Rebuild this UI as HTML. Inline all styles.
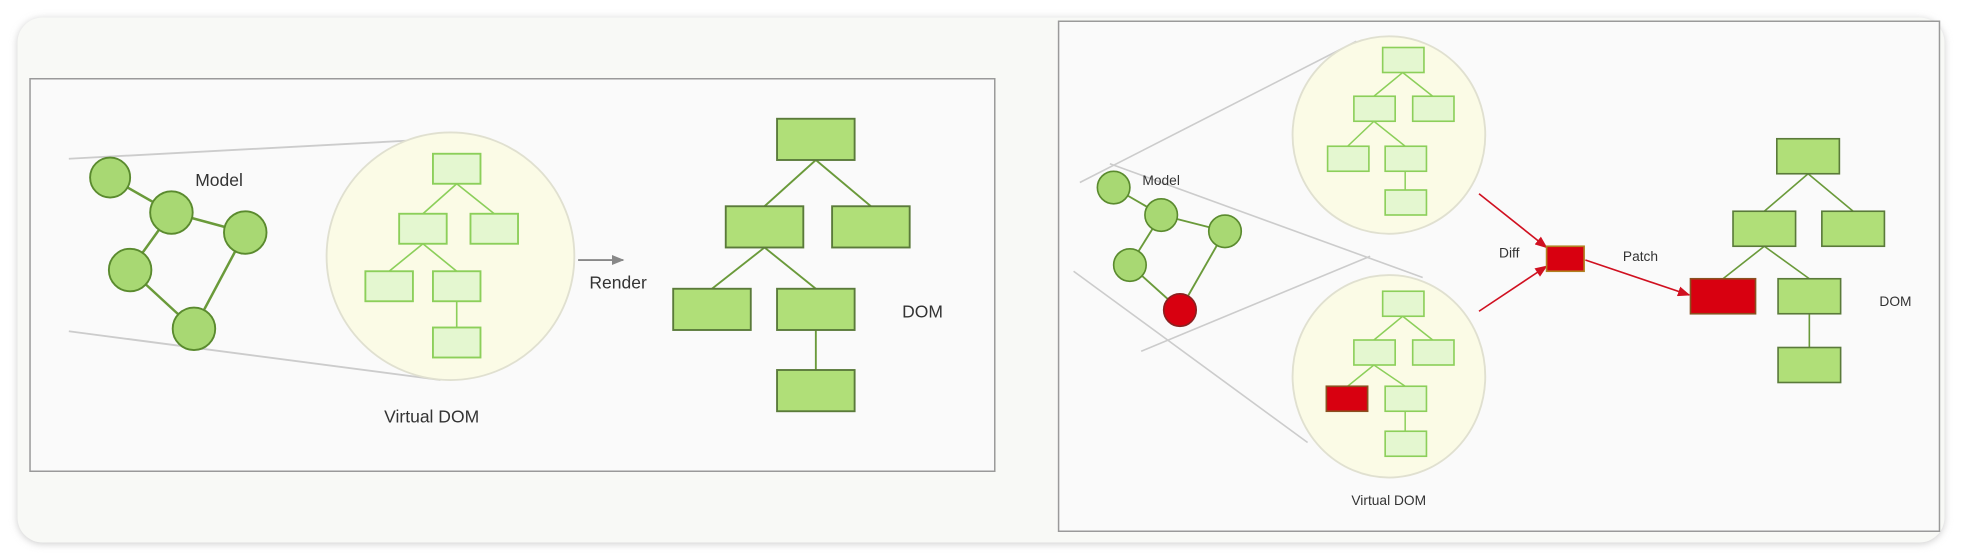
<!DOCTYPE html>
<html><head><meta charset="utf-8"><style>
html,body{margin:0;padding:0;background:#fff;}
svg{display:block;}
text{font-family:"Liberation Sans",sans-serif;fill:#333;}
</style></head><body>
<svg width="1962" height="560" viewBox="0 0 1568 448" preserveAspectRatio="none" xmlns="http://www.w3.org/2000/svg">
<defs>
<filter id="sh" x="-5%" y="-5%" width="110%" height="110%"><feGaussianBlur stdDeviation="3"/></filter>
<marker id="ag" markerWidth="10" markerHeight="8" refX="9" refY="4" orient="auto" markerUnits="userSpaceOnUse"><path d="M0,0 L10,4 L0,8 z" fill="#888"/></marker>
<marker id="ar" markerWidth="10" markerHeight="8" refX="9" refY="4" orient="auto" markerUnits="userSpaceOnUse"><path d="M0,0 L10,4 L0,8 z" fill="#d01020"/></marker>
</defs>
<rect x="0" y="0" width="1568" height="448" fill="#fff"/>
<rect x="14" y="15" width="1540" height="420" rx="20" fill="#ccc" filter="url(#sh)"/>
<rect x="14" y="14" width="1540" height="420" rx="20" fill="#f8f9f6"/>

<!-- LEFT PANEL -->
<rect x="24" y="63" width="771" height="314" fill="#fafafa" stroke="#9a9a9a" stroke-width="1.2"/>
<line x1="55" y1="127" x2="355" y2="111" stroke="#ccc" stroke-width="1.5"/>
<line x1="55" y1="265" x2="352" y2="304" stroke="#ccc" stroke-width="1.5"/>
<ellipse cx="360" cy="205" rx="99" ry="99" fill="#fbfbe6" stroke="#e0e0d0" stroke-width="1.5"/>
<g stroke="#6a9a3a" stroke-width="2">
<line x1="88" y1="142" x2="137" y2="170"/><line x1="137" y1="170" x2="196" y2="186"/>
<line x1="137" y1="170" x2="104" y2="216"/><line x1="104" y1="216" x2="155" y2="263"/>
<line x1="196" y1="186" x2="155" y2="263"/>
</g>
<g fill="#a8d873" stroke="#5a8a2e" stroke-width="1.5">
<circle cx="88" cy="142" r="16"/><circle cx="137" cy="170" r="17"/><circle cx="196" cy="186" r="17"/>
<circle cx="104" cy="216" r="17"/><circle cx="155" cy="263" r="17"/>
</g>
<text x="156" y="149" font-size="14">Model</text>
<g stroke="#8ccf5a" stroke-width="1.3">
<line x1="365" y1="147" x2="338" y2="171"/><line x1="365" y1="147" x2="395" y2="171"/>
<line x1="338" y1="195" x2="311" y2="217"/><line x1="338" y1="195" x2="365" y2="217"/>
<line x1="365" y1="241" x2="365" y2="262"/>
</g>
<g fill="#e4f7d0" stroke="#8ccf5a" stroke-width="1.5">
<rect x="346" y="123" width="38" height="24"/><rect x="319" y="171" width="38" height="24"/>
<rect x="376" y="171" width="38" height="24"/><rect x="292" y="217" width="38" height="24"/>
<rect x="346" y="217" width="38" height="24"/><rect x="346" y="262" width="38" height="24"/>
</g>
<text x="307" y="338" font-size="14">Virtual DOM</text>
<line x1="462" y1="208" x2="498" y2="208" stroke="#888" stroke-width="1.5" marker-end="url(#ag)"/>
<text x="471" y="231" font-size="14">Render</text>
<g stroke="#6a9a3a" stroke-width="1.5">
<line x1="652" y1="128" x2="611" y2="165"/><line x1="652" y1="128" x2="696" y2="165"/>
<line x1="611" y1="198" x2="569" y2="231"/><line x1="611" y1="198" x2="652" y2="231"/>
<line x1="652" y1="264" x2="652" y2="296"/>
</g>
<g fill="#b0df78" stroke="#5a7a3a" stroke-width="1.5">
<rect x="621" y="95" width="62" height="33"/><rect x="580" y="165" width="62" height="33"/>
<rect x="665" y="165" width="62" height="33"/><rect x="538" y="231" width="62" height="33"/>
<rect x="621" y="231" width="62" height="33"/><rect x="621" y="296" width="62" height="33"/>
</g>
<text x="721" y="254" font-size="14">DOM</text>

<!-- RIGHT PANEL -->
<rect x="846" y="17" width="704" height="408" fill="#fafafa" stroke="#9a9a9a" stroke-width="1.2"/>
<g stroke="#ccc" stroke-width="1.3">
<line x1="863" y1="146" x2="1084" y2="33"/>
<line x1="887" y1="131" x2="1137" y2="222"/>
<line x1="858" y1="217" x2="1045" y2="354"/>
<line x1="912" y1="281" x2="1095" y2="205"/>
</g>
<ellipse cx="1110" cy="108" rx="77" ry="79" fill="#fbfbe6" stroke="#e0e0d0" stroke-width="1.5"/>
<ellipse cx="1110" cy="301" rx="77" ry="81" fill="#fbfbe6" stroke="#e0e0d0" stroke-width="1.5"/>
<g stroke="#6a9a3a" stroke-width="1.5">
<line x1="890" y1="150" x2="928" y2="172"/><line x1="928" y1="172" x2="979" y2="185"/>
<line x1="928" y1="172" x2="903" y2="212"/><line x1="903" y1="212" x2="943" y2="248"/>
<line x1="979" y1="185" x2="943" y2="248"/>
</g>
<g fill="#a8d873" stroke="#5a8a2e" stroke-width="1.3">
<circle cx="890" cy="150" r="13"/><circle cx="928" cy="172" r="13"/><circle cx="979" cy="185" r="13"/>
<circle cx="903" cy="212" r="13"/>
</g>
<circle cx="943" cy="248" r="13" fill="#d80010" stroke="#8a2020" stroke-width="1.3"/>
<text x="913" y="148" font-size="11">Model</text>
<g stroke="#8ccf5a" stroke-width="1.2">
<line x1="1121" y1="58" x2="1098" y2="77"/><line x1="1121" y1="58" x2="1145" y2="77"/>
<line x1="1098" y1="97" x2="1077" y2="117"/><line x1="1098" y1="97" x2="1123" y2="117"/>
<line x1="1123" y1="137" x2="1123" y2="152"/>
<line x1="1121" y1="253" x2="1098" y2="272"/><line x1="1121" y1="253" x2="1145" y2="272"/>
<line x1="1098" y1="292" x2="1077" y2="309"/><line x1="1098" y1="292" x2="1123" y2="309"/>
<line x1="1123" y1="329" x2="1123" y2="345"/>
</g>
<g fill="#e4f7d0" stroke="#8ccf5a" stroke-width="1.3">
<rect x="1105" y="38" width="33" height="20"/><rect x="1082" y="77" width="33" height="20"/>
<rect x="1129" y="77" width="33" height="20"/><rect x="1061" y="117" width="33" height="20"/>
<rect x="1107" y="117" width="33" height="20"/><rect x="1107" y="152" width="33" height="20"/>
<rect x="1105" y="233" width="33" height="20"/><rect x="1082" y="272" width="33" height="20"/>
<rect x="1129" y="272" width="33" height="20"/>
<rect x="1107" y="309" width="33" height="20"/><rect x="1107" y="345" width="33" height="20"/>
</g>
<rect x="1060" y="309" width="33" height="20" fill="#d80010" stroke="#8a5020" stroke-width="1.3"/>
<text x="1080" y="404" font-size="11">Virtual DOM</text>
<line x1="1182" y1="155" x2="1236" y2="198" stroke="#d01020" stroke-width="1.3" marker-end="url(#ar)"/>
<line x1="1182" y1="249" x2="1236" y2="213" stroke="#d01020" stroke-width="1.3" marker-end="url(#ar)"/>
<rect x="1236" y="197" width="30" height="20" fill="#d80010" stroke="#b08020" stroke-width="1.3"/>
<text x="1198" y="206" font-size="11">Diff</text>
<line x1="1267" y1="208" x2="1350" y2="236" stroke="#d01020" stroke-width="1.3" marker-end="url(#ar)"/>
<text x="1297" y="209" font-size="11">Patch</text>
<g stroke="#6a9a3a" stroke-width="1.3">
<line x1="1445" y1="139" x2="1410" y2="169"/><line x1="1445" y1="139" x2="1481" y2="169"/>
<line x1="1410" y1="197" x2="1377" y2="223"/><line x1="1410" y1="197" x2="1446" y2="223"/>
<line x1="1446" y1="251" x2="1446" y2="278"/>
</g>
<g fill="#b0df78" stroke="#5a7a3a" stroke-width="1.3">
<rect x="1420" y="111" width="50" height="28"/><rect x="1385" y="169" width="50" height="28"/>
<rect x="1456" y="169" width="50" height="28"/>
<rect x="1421" y="223" width="50" height="28"/><rect x="1421" y="278" width="50" height="28"/>
</g>
<rect x="1351" y="223" width="52" height="28" fill="#d80010" stroke="#8a5020" stroke-width="1.3"/>
<text x="1502" y="245" font-size="11">DOM</text>
</svg>
</body></html>
